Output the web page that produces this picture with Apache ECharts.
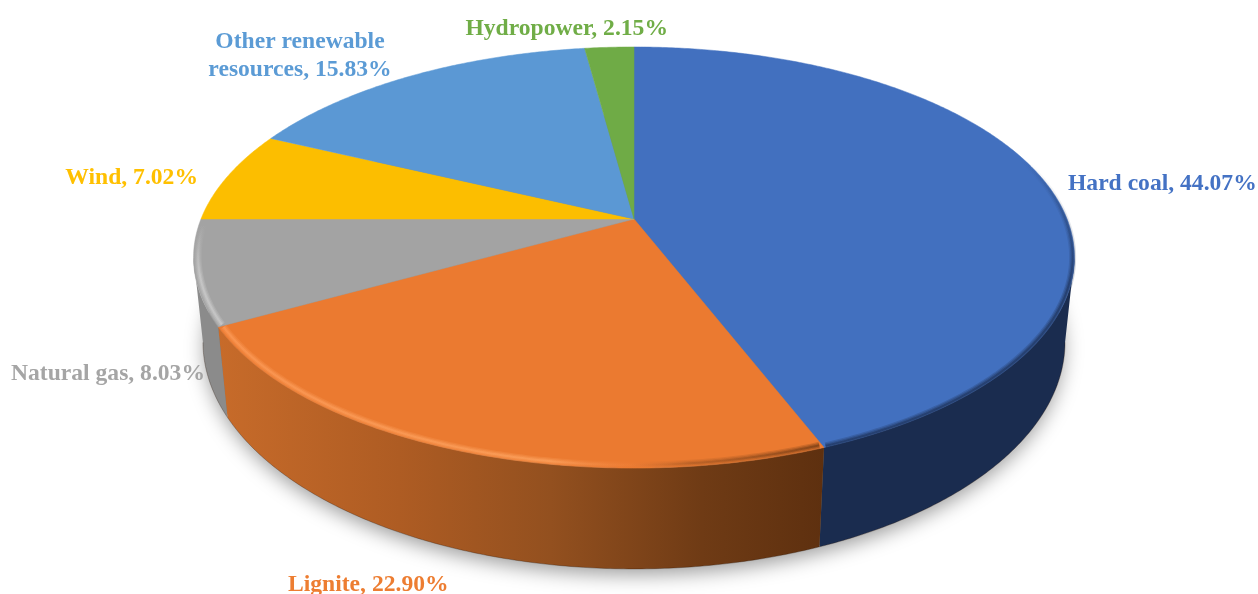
<!DOCTYPE html>
<html>
<head>
<meta charset="utf-8">
<style>
  html, body { margin: 0; padding: 0; background: #fff; }
  #chart { width: 1258px; height: 594px; }
</style>
<script src="https://cdn.jsdelivr.net/npm/echarts@6/dist/echarts.min.js"></script>
</head>
<body>
<div id="chart"></div>
<script>
var categories = ['Hard coal', 'Lignite', 'Natural gas', 'Wind', 'Other renewable\nresources', 'Hydropower'];
var shares = [44.07, 22.90, 8.03, 7.02, 15.83, 2.15];
var topColors = ['#4270BF', '#EB7A30', '#A3A3A3', '#FCBE00', '#5B98D4', '#6FAB46'];
var labelColors = ['#4472C4', '#ED7D31', '#A5A5A5', '#FFC000', '#5B9BD5', '#70AD47'];

// text anchors, same order as categories
var labelAnchors = [
    { x: 1068, y: 184, align: 'left' },
    { x: 288, y: 585, align: 'left' },
    { x: 205, y: 374, align: 'right' },
    { x: 198, y: 178, align: 'right' },
    { x: 300, y: 56, align: 'center' },
    { x: 668, y: 29, align: 'right' }
];

// the pie is a tilted disc, so top and bottom rim get their own perspective
var topDisc = { cx: 634, cy: 219, rx: 433, ry: 203.5, k: 0.183 };
var bottomDisc = { cx: 634, cy: 301, rx: 424, ry: 219.7, k: 0.18 };

// only this part of the wall faces the camera
var wallFrom = 100.5;
var wallTo = 259.5;

function gradient(x0, y0, x1, y1, stops) {
    return new echarts.graphic.LinearGradient(x0, y0, x1, y1,
        stops.map(function (s) { return { offset: s[0], color: s[1] }; }), true);
}

// wall fill per slice name
var wallFills = {
    'Hard coal': '#1A2C4F',
    'Lignite': gradient(218, 0, 823, 0, [[0, '#C76B2A'], [0.3, '#AE5C23'], [0.55, '#93501F'], [0.8, '#6F3B15'], [1, '#5E300F']]),
    'Natural gas': '#8B8B8B'
};

function project(disc, deg, r) {
    var a = deg * Math.PI / 180;
    var u = Math.sin(a) * r;
    var v = Math.cos(a) * r;
    var w = 1 + disc.k * v;
    return [disc.cx + disc.rx * u / w, disc.cy - disc.ry * v / w];
}

function arc(disc, from, to, r) {
    var pts = [];
    var n = Math.max(2, Math.ceil((to - from) * 2));
    for (var i = 0; i <= n; i++) {
        pts.push(project(disc, from + (to - from) * i / n, r));
    }
    return pts;
}

var total = shares.reduce(function (a, b) { return a + b; }, 0);
var startAngles = [];
shares.reduce(function (sum, v, i) {
    startAngles[i] = sum / total * 360;
    return sum + v;
}, 0);

function sliceRange(api) {
    var i = api.value(0);
    return { i: i, from: startAngles[i], to: startAngles[i] + api.value(1) / total * 360 };
}

var rowData = shares.map(function (v, i) { return [i, v]; });

function renderShadow(params, api) {
    if (params.dataIndex !== 0) {
        return null;
    }
    return {
        type: 'polygon',
        shape: { points: arc(bottomDisc, 0, 360, 0.995) },
        style: { fill: '#777', shadowBlur: 20, shadowColor: 'rgba(0,0,0,0.4)', shadowOffsetY: 7 }
    };
}

function renderWall(params, api) {
    var s = sliceRange(api);
    var from = Math.max(s.from, wallFrom);
    var to = Math.min(s.to, wallTo);
    if (to <= from) {
        return null;
    }
    var upper = arc(topDisc, from, to, 1);
    var lower = arc(bottomDisc, from, to, 1);
    return {
        type: 'group',
        children: [{
            type: 'polygon',
            shape: { points: upper.concat(lower.slice().reverse()) },
            style: { fill: wallFills[categories[s.i]] }
        }, {
            type: 'polyline',
            shape: { points: lower },
            style: { fill: null, stroke: 'rgba(40,20,5,0.3)', lineWidth: 1 }
        }]
    };
}

function renderTop(params, api) {
    var s = sliceRange(api);
    var pts = [[topDisc.cx, topDisc.cy]].concat(arc(topDisc, s.from, s.to, 1));
    return {
        type: 'polygon',
        shape: { points: pts },
        style: { fill: topColors[s.i], stroke: topColors[s.i], lineWidth: 0.5 }
    };
}

// soft bevel along the front edge of the top face, three faint strokes stacked
function bevel(points, stroke) {
    return {
        type: 'group',
        children: [[7, 0.22], [4.5, 0.3], [2, 0.45]].map(function (p) {
            return {
                type: 'polyline',
                shape: { points: points },
                style: { fill: null, stroke: stroke, lineWidth: p[0], opacity: p[1] }
            };
        })
    };
}

function renderRim(params, api) {
    var s = sliceRange(api);
    var name = categories[s.i];
    if (name === 'Lignite') {
        return bevel(arc(topDisc, s.from + 0.3, s.to - 0.3, 0.99), gradient(218, 0, 823, 0, [
            [0, '#FF9E5C'], [0.55, '#FFA865'], [0.68, 'rgba(240,130,60,0.4)'], [0.78, 'rgba(140,75,30,0.6)'], [1, '#5E300F']
        ]));
    }
    if (name === 'Natural gas') {
        return bevel(arc(topDisc, s.from + 0.3, s.to, 0.99), gradient(0, 225, 0, 275, [
            [0, 'rgba(205,205,205,0)'], [1, '#D2D2D2']
        ]));
    }
    if (name === 'Hard coal') {
        return bevel(arc(topDisc, 40, s.to - 0.3, 0.996), gradient(0, 160, 0, 290, [
            [0, 'rgba(26,44,79,0)'], [1, '#1A2C4F']
        ]));
    }
    return null;
}

function renderLabel(params, api) {
    var i = api.value(0);
    var a = labelAnchors[i];
    return {
        type: 'text',
        x: a.x,
        y: a.y,
        style: {
            text: categories[i] + ', ' + api.value(1).toFixed(2) + '%',
            fill: labelColors[i],
            font: 'bold 23.6px "Liberation Serif", serif',
            lineHeight: 28,
            align: a.align,
            verticalAlign: 'middle'
        }
    };
}

function layer(renderItem, z) {
    return { type: 'custom', coordinateSystem: 'none', data: rowData, renderItem: renderItem, z: z, silent: true, clip: false };
}

var chart = echarts.init(document.getElementById('chart'), null, { renderer: 'canvas', width: 1258, height: 594 });
chart.setOption({
    animation: false,
    backgroundColor: '#ffffff',
    series: [
        layer(renderShadow, 1),
        layer(renderWall, 2),
        layer(renderTop, 3),
        layer(renderRim, 4),
        layer(renderLabel, 5)
    ]
});
</script>
</body>
</html>
